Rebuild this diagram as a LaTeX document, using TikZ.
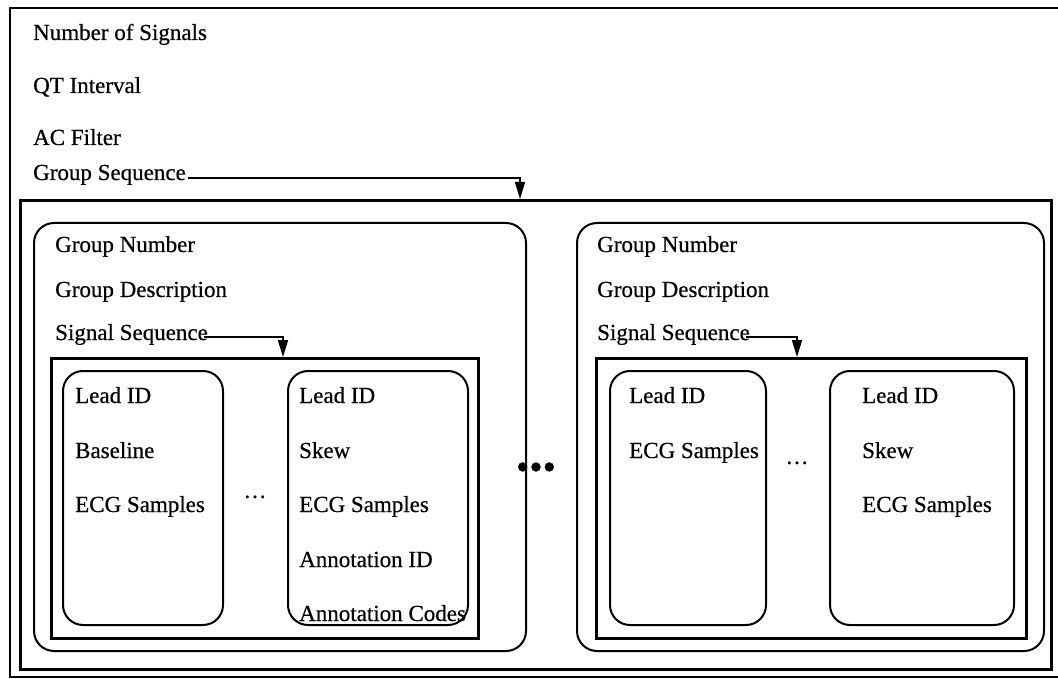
\documentclass[tikz,border=0pt]{standalone}
\usepackage{fontspec}
\setmainfont{Liberation Serif}
\newfontfamily\scanfont[BoldFont={Liberation Serif}, BoldFeatures={FakeBold=0.5}]{Liberation Serif}
\usetikzlibrary{arrows.meta}
\tikzset{
  lbl/.style={anchor=base west, inner sep=0pt, font=\scanfont\bfseries\fontsize{23}{27}\selectfont},
  dots/.style={anchor=center, inner sep=0pt, font=\scanfont\bfseries\fontsize{23}{27}\selectfont},
  bigdots/.style={anchor=center, inner sep=0pt, font=\scanfont\bfseries\fontsize{38}{40}\selectfont},
  grpbox/.style={draw, line width=2pt, rounded corners=20pt},
  leadbox/.style={draw, line width=2pt, rounded corners=20pt},
  seqbox/.style={draw, line width=3.4pt},
  gseqbox/.style={draw, line width=2.6pt},
  frame/.style={draw, line width=2pt},
  conn/.style={line width=1.6pt, -{Triangle[length=17pt,width=10pt]}},
}
\begin{document}
\begin{tikzpicture}[x=1pt,y=-1pt]
\useasboundingbox (0,0) rectangle (1058,679);
% outer frame (right side outside the picture)
\draw[frame] (1058,8) -- (10,8) -- (10,677) -- (1058,677);
% top level fields
\node[lbl] (nsig) at (33,40) {Number of Signals};
\node[lbl] (qt) at (33,93) {QT Interval};
\node[lbl] (ac) at (33,145) {AC Filter};
\node[lbl] (gseq) at (33,180) {Group Sequence};
% group sequence box
\node[gseqbox, minimum width=1031pt, minimum height=469pt, anchor=north west, inner sep=0pt] (gbox) at (19,199) {};
\coordinate (gtip) at (520,199);
\coordinate (gcorner) at (520,178);
\draw[conn] ([xshift=2pt,yshift=2pt]gseq.base east) -- (gcorner) -- (gtip);

% ---------- left group ----------
\node[grpbox, minimum width=492pt, minimum height=428pt, anchor=north west, inner sep=0pt] (g1) at (33,222) {};
\node[lbl] (g1num) at (55,252) {Group Number};
\node[lbl] (g1desc) at (55,297) {Group Description};
\node[lbl] (g1sig) at (55,340) {Signal Sequence};
\node[seqbox, minimum width=427pt, minimum height=280pt, anchor=north west, inner sep=0pt] (s1) at (50,357) {};
\coordinate (s1corner) at (283,337);
\coordinate (s1tip) at (283,357);
\draw[conn] ([xshift=-4pt,yshift=3pt]g1sig.base east) -- (s1corner) -- (s1tip);

\node[leadbox, minimum width=160pt, minimum height=254pt, anchor=north west, inner sep=0pt] (l1) at (62,370) {};
\node[lbl] (l1a) at (75,403) {Lead ID};
\node[lbl] (l1b) at (75,458) {Baseline};
\node[lbl] (l1c) at (75,512) {ECG Samples};
\node[dots] (d1) at (255,500) {···};
\node[leadbox, minimum width=180pt, minimum height=254pt, anchor=north west, inner sep=0pt] (l2) at (287,370) {};
\node[lbl] (l2a) at (299,403) {Lead ID};
\node[lbl] (l2b) at (299,458) {Skew};
\node[lbl] (l2c) at (299,512) {ECG Samples};
\node[lbl] (l2d) at (299,567) {Annotation ID};
\node[lbl] (l2e) at (299,621) {Annotation Codes};

% middle dots
\node[bigdots] (bigdots) at (536,471) {•••};

% ---------- right group ----------
\node[grpbox, minimum width=467pt, minimum height=428pt, anchor=north west, inner sep=0pt] (g2) at (576,222) {};
\node[lbl] (g2num) at (597,252) {Group Number};
\node[lbl] (g2desc) at (597,297) {Group Description};
\node[lbl] (g2sig) at (597,340) {Signal Sequence};
\node[seqbox, minimum width=430pt, minimum height=280pt, anchor=north west, inner sep=0pt] (s2) at (595,357) {};
\coordinate (s2corner) at (797,337);
\coordinate (s2tip) at (797,357);
\draw[conn] ([xshift=-4pt,yshift=3pt]g2sig.base east) -- (s2corner) -- (s2tip);

\node[leadbox, minimum width=156pt, minimum height=254pt, anchor=north west, inner sep=0pt] (l3) at (609,370) {};
\node[lbl] (l3a) at (629,403) {Lead ID};
\node[lbl] (l3b) at (629,458) {ECG Samples};
\node[dots] (d2) at (797,466) {···};
\node[leadbox, minimum width=184pt, minimum height=254pt, anchor=north west, inner sep=0pt] (l4) at (829,370) {};
\node[lbl] (l4a) at (862,403) {Lead ID};
\node[lbl] (l4b) at (862,458) {Skew};
\node[lbl] (l4c) at (862,512) {ECG Samples};
\end{tikzpicture}
\end{document}
